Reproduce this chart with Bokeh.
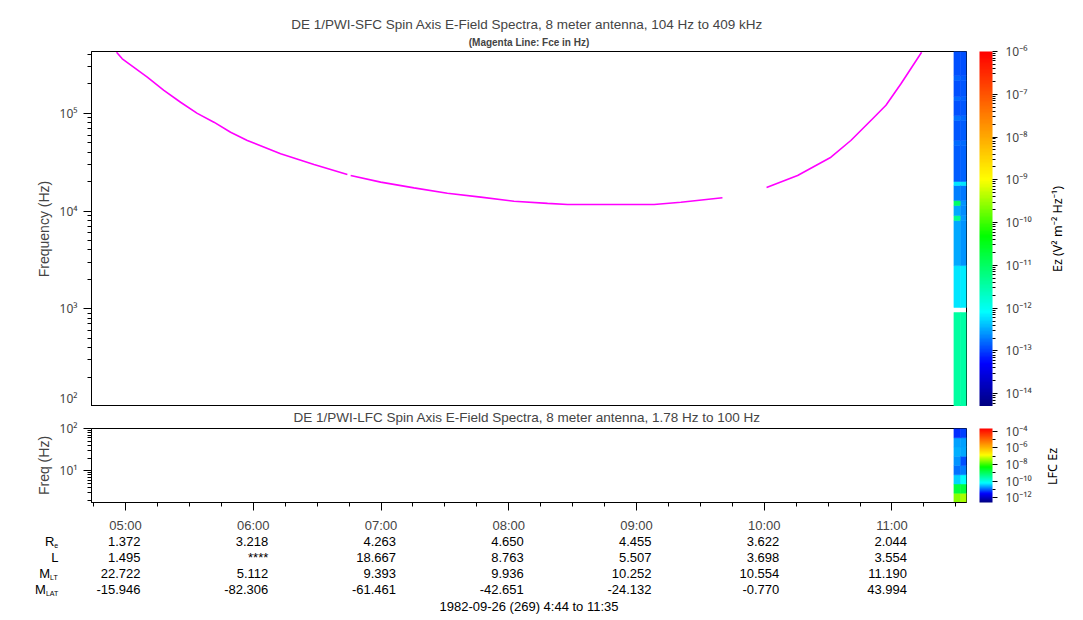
import math
import numpy as np
import pandas as pd
from bokeh.plotting import figure
from bokeh.layouts import column, row
from bokeh.models import (ColumnDataSource, Range1d, LogColorMapper, ColorBar, FixedTicker,
                          CustomJSTickFormatter, Title, LinearAxis, AllLabels)
from bokeh.embed import file_html
from bokeh.resources import INLINE
from bokeh.core.properties import value

# ---------------- data ----------------
DATE = "1982-09-26"
T_START, T_END = "04:44:00", "11:35:00"

# Magenta line: electron cyclotron frequency Fce (Hz); NaN = gap in line
fce_time = ["04:55:46", "04:58:27", "05:10:12", "05:18:00", "05:25:50", "05:33:41", "05:41:30",
            "05:49:20", "05:57:12", "06:12:50", "06:28:30", "06:44:11", "06:44:50", "06:45:44",
            "06:59:50", "07:15:29", "07:31:10", "07:46:50", "08:02:26", "08:18:13", "08:27:37",
            "08:49:30", "09:08:17", "09:20:50", "09:40:22", "09:50:00", "10:01:05", "10:15:40",
            "10:31:20", "10:40:40", "10:51:36", "10:57:10", "11:04:13", "11:13:55"]
fce_hz = [4.23e5, 3.62e5, 2.35e5, 1.72e5, 1.30e5, 1.00e5, 8.13e4,
          6.42e4, 5.28e4, 3.86e4, 3.00e4, 2.37e4, np.nan, 2.31e4,
          1.98e4, 1.73e4, 1.52e4, 1.39e4, 1.26e4, 1.20e4, 1.17e4,
          1.17e4, 1.17e4, 1.23e4, 1.37e4, np.nan, 1.74e4, 2.31e4,
          3.56e4, 5.28e4, 9.14e4, 1.21e5, 2.01e5, 4.23e5]

# SFC spectrogram (log10 Ez, V^2 m^-2 Hz^-1), two time columns
sfc_time_edges = ["11:29:05", "11:32:20", "11:35:00"]
sfc_freq_edges = [100, 916, 1030, 2770, 8000, 9000, 11400, 12800, 18300, 20100, 46900,
                  52800, 84500, 95000, 136000, 149000, 217000, 244000, 430000]
sfc_log_ez_col1 = [-11.42, np.nan, -12.22, -12.50, -11.30, -12.50, -11.00, -12.68, -12.20,
                   -12.87, -12.78, -12.90, -12.76, -12.93, -12.80, -12.92, -12.82, -12.93]
sfc_log_ez_col2 = [-11.45, np.nan, -12.18, -12.60, -12.55, -12.62, -12.60, -12.72, -12.22,
                   -12.84, -12.80, -12.86, -12.78, -12.90, -12.82, -12.90, -12.85, -12.91]

# LFC spectrogram
lfc_time_edges = ["11:29:05", "11:32:20", "11:35:00"]
lfc_freq_edges = [1.78, 2.94, 4.87, 8.06, 13.3, 22.1, 36.5, 60.4, 100]
lfc_log_ez_col1 = [-7.55, -8.77, -10.46, -10.94, -10.78, -10.62, -10.70, -11.28]
lfc_log_ez_col2 = [-7.38, -8.75, -10.20, -10.87, -11.10, -10.65, -10.68, -11.20]

# orbit table
tick_times = ["05:00", "06:00", "07:00", "08:00", "09:00", "10:00", "11:00"]
re_vals = [1.372, 3.218, 4.263, 4.650, 4.455, 3.622, 2.044]
l_vals = [1.495, np.nan, 18.667, 8.763, 5.507, 3.698, 3.554]
mlt_vals = [22.722, 5.112, 9.393, 9.936, 10.252, 10.554, 11.190]
mlat_vals = [-15.946, -82.306, -61.461, -42.651, -24.132, -0.770, 43.994]
row_names = ["R", "L", "M", "M"]
row_subs = ["e", "", "LT", "LAT"]

SFC_TITLE = "DE 1/PWI-SFC  Spin Axis E-Field Spectra, 8 meter antenna, 104 Hz to 409 kHz"
SFC_SUB = "(Magenta Line: Fce in Hz)"
LFC_TITLE = "DE 1/PWI-LFC  Spin Axis E-Field Spectra, 8 meter antenna, 1.78 Hz to 100 Hz"
FOOTER = "1982-09-26 (269) 4:44 to 11:35"
SFC_CB_LABEL = "Ez (V\u00b2 m\u207b\u00b2 Hz\u207b\u00b9)"
LFC_CB_LABEL = "LFC Ez"

# ---------------- helpers ----------------
FONT = "Liberation Sans"
SUPFONT = "Noto Sans"
FS = "13px"


def ms(s):
    return pd.Timestamp(f"{DATE} {s}").value / 1e6


anchors = [(0.0, (0, 0, 128)), (0.12, (0, 0, 255)), (0.265, (0, 255, 255)), (0.48, (0, 255, 0)),
           (0.64, (255, 255, 0)), (0.80, (255, 140, 0)), (1.0, (255, 0, 0))]
pos = [a[0] for a in anchors]
palette = []
for t in np.linspace(0, 1, 256):
    rgb = [int(round(np.interp(t, pos, [a[1][k] for a in anchors]))) for k in range(3)]
    palette.append("#%02x%02x%02x" % tuple(rgb))

SUP_JS = """
const sup = {"-":"\u207b","0":"\u2070","1":"\u00b9","2":"\u00b2","3":"\u00b3","4":"\u2074",
             "5":"\u2075","6":"\u2076","7":"\u2077","8":"\u2078","9":"\u2079"};
const e = Math.round(Math.log10(tick));
return "10" + String(e).split("").map(c => sup[c]).join("");
"""
time_fmt = CustomJSTickFormatter(code="""
const d = new Date(tick);
return String(d.getUTCHours()).padStart(2, "0") + ":" + String(d.getUTCMinutes()).padStart(2, "0");
""")


def strip_source(t_edges, f_edges, cols):
    d = dict(left=[], right=[], bottom=[], top=[], power=[])
    for j, col in enumerate(cols):
        for i, v in enumerate(col):
            if np.isnan(v):
                continue
            d["left"].append(ms(t_edges[j]))
            d["right"].append(ms(t_edges[j + 1]))
            d["bottom"].append(f_edges[i])
            d["top"].append(f_edges[i + 1])
            d["power"].append(10 ** v)
    return ColumnDataSource(d)


def style_yaxis(ax, label):
    ax.axis_label = label
    ax.axis_label_text_font = FONT
    ax.axis_label_text_font_size = "14px"
    ax.axis_label_text_font_style = "normal"
    ax.axis_label_standoff = 5
    ax.major_label_text_font = SUPFONT
    ax.major_label_text_font_size = "12px"
    ax.major_label_standoff = 6
    ax.major_tick_in = 0
    ax.major_tick_out = 8
    ax.minor_tick_in = 0
    ax.minor_tick_out = 4
    ax.axis_line_color = "black"
    ax.major_tick_line_color = "black"
    ax.minor_tick_line_color = "black"
    ax.formatter = CustomJSTickFormatter(code=SUP_JS)


def spacer_axis(px, tick):
    return LinearAxis(ticker=FixedTicker(ticks=[tick]), formatter=CustomJSTickFormatter(code="return ''"),
                      major_tick_out=px, major_tick_in=0, minor_tick_out=0, minor_tick_in=0,
                      major_tick_line_color=None, minor_tick_line_color=None,
                      axis_line_color=None, major_label_standoff=0)


def add_cbar(p, mapper, ticks, minor, mid):
    p.add_layout(spacer_axis(13, mid), "right")
    cb = ColorBar(color_mapper=mapper, width=13, padding=0, margin=0,
                  ticker=FixedTicker(ticks=ticks, minor_ticks=minor),
                  formatter=CustomJSTickFormatter(code=SUP_JS),
                  major_label_policy=AllLabels(),
                  major_label_text_font=SUPFONT, major_label_text_font_size="12px",
                  label_standoff=8, major_tick_in=0, major_tick_out=5, minor_tick_in=0,
                  minor_tick_out=3, major_tick_line_color="black", minor_tick_line_color="black",
                  bar_line_color=None, location="top")
    p.add_layout(cb, "right")


W_ALL = 1083
WD = 38                      # narrow strip on the right that holds the colour-bar titles
WM = W_ALL - WD
BL = 91
FRAME_R = 966
BR = WM - FRAME_R
FRAME_W = FRAME_R - BL
x0, x1 = ms(T_START), ms(T_END)
mpp = (x1 - x0) / FRAME_W
x_range = Range1d(x0, x1)

# ---------------- SFC panel ----------------
HA, A_TOP = 406, 51
sfc_low, sfc_high = 100, 4.3e5
pA = figure(width=WM, height=HA, x_axis_type="datetime", y_axis_type="log", x_range=x_range,
            y_range=Range1d(sfc_low, sfc_high), x_axis_location=None, toolbar_location=None,
            output_backend="svg", min_border_left=BL, min_border_right=BR, min_border_top=A_TOP,
            min_border_bottom=0, title=None)
pA.grid.visible = False
pA.outline_line_color = "black"
pA.yaxis.ticker = FixedTicker(ticks=[1e2, 1e3, 1e4, 1e5],
                              minor_ticks=[k * 10 ** d for d in range(2, 6) for k in range(2, 10)])
style_yaxis(pA.yaxis[0], "Frequency (Hz)")

mapA = LogColorMapper(palette=palette, low=10 ** -14.3, high=1e-6)
srcA = strip_source(sfc_time_edges, sfc_freq_edges, [sfc_log_ez_col1, sfc_log_ez_col2])
pA.quad(left="left", right="right", bottom="bottom", top="top", source=srcA,
        fill_color={"field": "power", "transform": mapA},
        line_color={"field": "power", "transform": mapA}, line_width=0.5)
pA.line([ms(t) for t in fce_time], fce_hz, line_color="#ff00ff", line_width=1.6)

add_cbar(pA, mapA, [10.0 ** -k for k in range(6, 15)],
         [m * 10.0 ** -k for k in range(7, 16) for m in range(2, 10)],
         math.sqrt(sfc_low * sfc_high))
pA.add_layout(Title(text=SFC_SUB, align="center", text_font=FONT, text_font_size="10px",
                    text_font_style="bold", standoff=7), "above")
pA.add_layout(Title(text=SFC_TITLE, align="center", text_font=FONT, text_font_size="13.5px",
                    text_font_style="normal", standoff=0), "above")

# ---------------- LFC panel ----------------
HB, B_TOP, B_BOT = 129, 22, 31
lfc_low, lfc_high = 1.78, 100
pB = figure(width=WM, height=HB, x_axis_type="datetime", y_axis_type="log", x_range=x_range,
            y_range=Range1d(lfc_low, lfc_high), toolbar_location=None, output_backend="svg",
            min_border_left=BL, min_border_right=BR, min_border_top=B_TOP, min_border_bottom=B_BOT,
            title=None)
pB.grid.visible = False
pB.outline_line_color = "black"
pB.yaxis.ticker = FixedTicker(ticks=[1e1, 1e2],
                              minor_ticks=[k * 10 ** d for d in range(0, 2) for k in range(2, 10)])
style_yaxis(pB.yaxis[0], "Freq (Hz)")
xa = pB.xaxis[0]
xa.ticker = FixedTicker(ticks=[ms(t) for t in tick_times],
                        minor_ticks=[ms("04:45") + 15 * 60000 * k for k in range(28)])
xa.formatter = time_fmt
xa.major_label_text_font = FONT
xa.major_label_text_font_size = FS
xa.major_label_standoff = 7
xa.major_tick_in = 0
xa.major_tick_out = 8
xa.minor_tick_in = 0
xa.minor_tick_out = 4
xa.axis_line_color = "black"

mapB = LogColorMapper(palette=palette, low=10 ** -12.6, high=10 ** -3.64)
srcB = strip_source(lfc_time_edges, lfc_freq_edges, [lfc_log_ez_col1, lfc_log_ez_col2])
pB.quad(left="left", right="right", bottom="bottom", top="top", source=srcB,
        fill_color={"field": "power", "transform": mapB},
        line_color={"field": "power", "transform": mapB}, line_width=0.5)
add_cbar(pB, mapB, [1e-12, 1e-10, 1e-8, 1e-6, 1e-4], [1e-11, 1e-9, 1e-7, 1e-5],
         math.sqrt(lfc_low * lfc_high))
pB.add_layout(Title(text=LFC_TITLE, align="center", text_font=FONT, text_font_size="13.5px",
                    text_font_style="normal", standoff=4, vertical_align="top"), "above")

# ---------------- orbit table ----------------
HC = 82
pC = figure(width=WM, height=HC, x_range=Range1d(x0 - BL * mpp, x0 + (WM - BL) * mpp),
            y_range=Range1d(HC, 0), x_axis_location=None, y_axis_location=None,
            toolbar_location=None, output_backend="svg", min_border=0, title=None)
pC.frame_align = False
pC.grid.visible = False
pC.outline_line_color = None

ROW0, ROW_H = 6, 16
tx, ty, tt = [], [], []
for r, vals in enumerate([re_vals, l_vals, mlt_vals, mlat_vals]):
    for t, v in zip(tick_times, vals):
        tx.append(ms(t))
        ty.append(ROW0 + r * ROW_H)
        tt.append("****" if np.isnan(v) else f"{v:.3f}")
pC.text(x="x", y="y", text="text", source=ColumnDataSource(dict(x=tx, y=ty, text=tt)),
        text_align="right", text_baseline="middle", x_offset=15,
        text_font=value(FONT), text_font_size=FS, text_color="black")

for r, (nm, sb) in enumerate(zip(row_names, row_subs)):
    sub_w = 4.2 * len(sb)
    pC.text(x=[x0], y=[ROW0 + r * ROW_H], text=[nm], text_align="right", text_baseline="middle",
            x_offset=-33 - sub_w, text_font=value(FONT), text_font_size=FS, text_color="black")
    if sb:
        pC.text(x=[x0], y=[ROW0 + r * ROW_H], text=[sb], text_align="left", text_baseline="middle",
                x_offset=-33 - sub_w, y_offset=4, text_font=value(FONT), text_font_size="7px",
                text_color="black")

pC.text(x=[(x0 + x1) / 2], y=[ROW0 + 4 * ROW_H + 1], text=[FOOTER], text_align="center",
        text_baseline="middle", text_font=value(FONT), text_font_size=FS, text_color="black")

# ---------------- colour-bar titles (rotated, reading upwards) ----------------
HD = HA + HB + HC
pD = figure(width=WD, height=HD, x_range=Range1d(0, WD), y_range=Range1d(HD, 0),
            x_axis_location=None, y_axis_location=None, toolbar_location=None,
            output_backend="svg", min_border=0, title=None)
pD.frame_align = False
pD.grid.visible = False
pD.outline_line_color = None
a_mid = (A_TOP + HA) / 2
b_mid = HA + B_TOP + (HB - B_TOP - B_BOT) / 2
pD.text(x=[12, 7], y=[a_mid, b_mid], text=[SFC_CB_LABEL, LFC_CB_LABEL], angle=math.pi / 2,
        text_align="center", text_baseline="middle", text_font=value(SUPFONT),
        text_font_size="12.5px", text_color="black")

layout = row(column(pA, pB, pC, spacing=0), pD, spacing=0)
open("out.html", "w").write(file_html(layout, INLINE))
